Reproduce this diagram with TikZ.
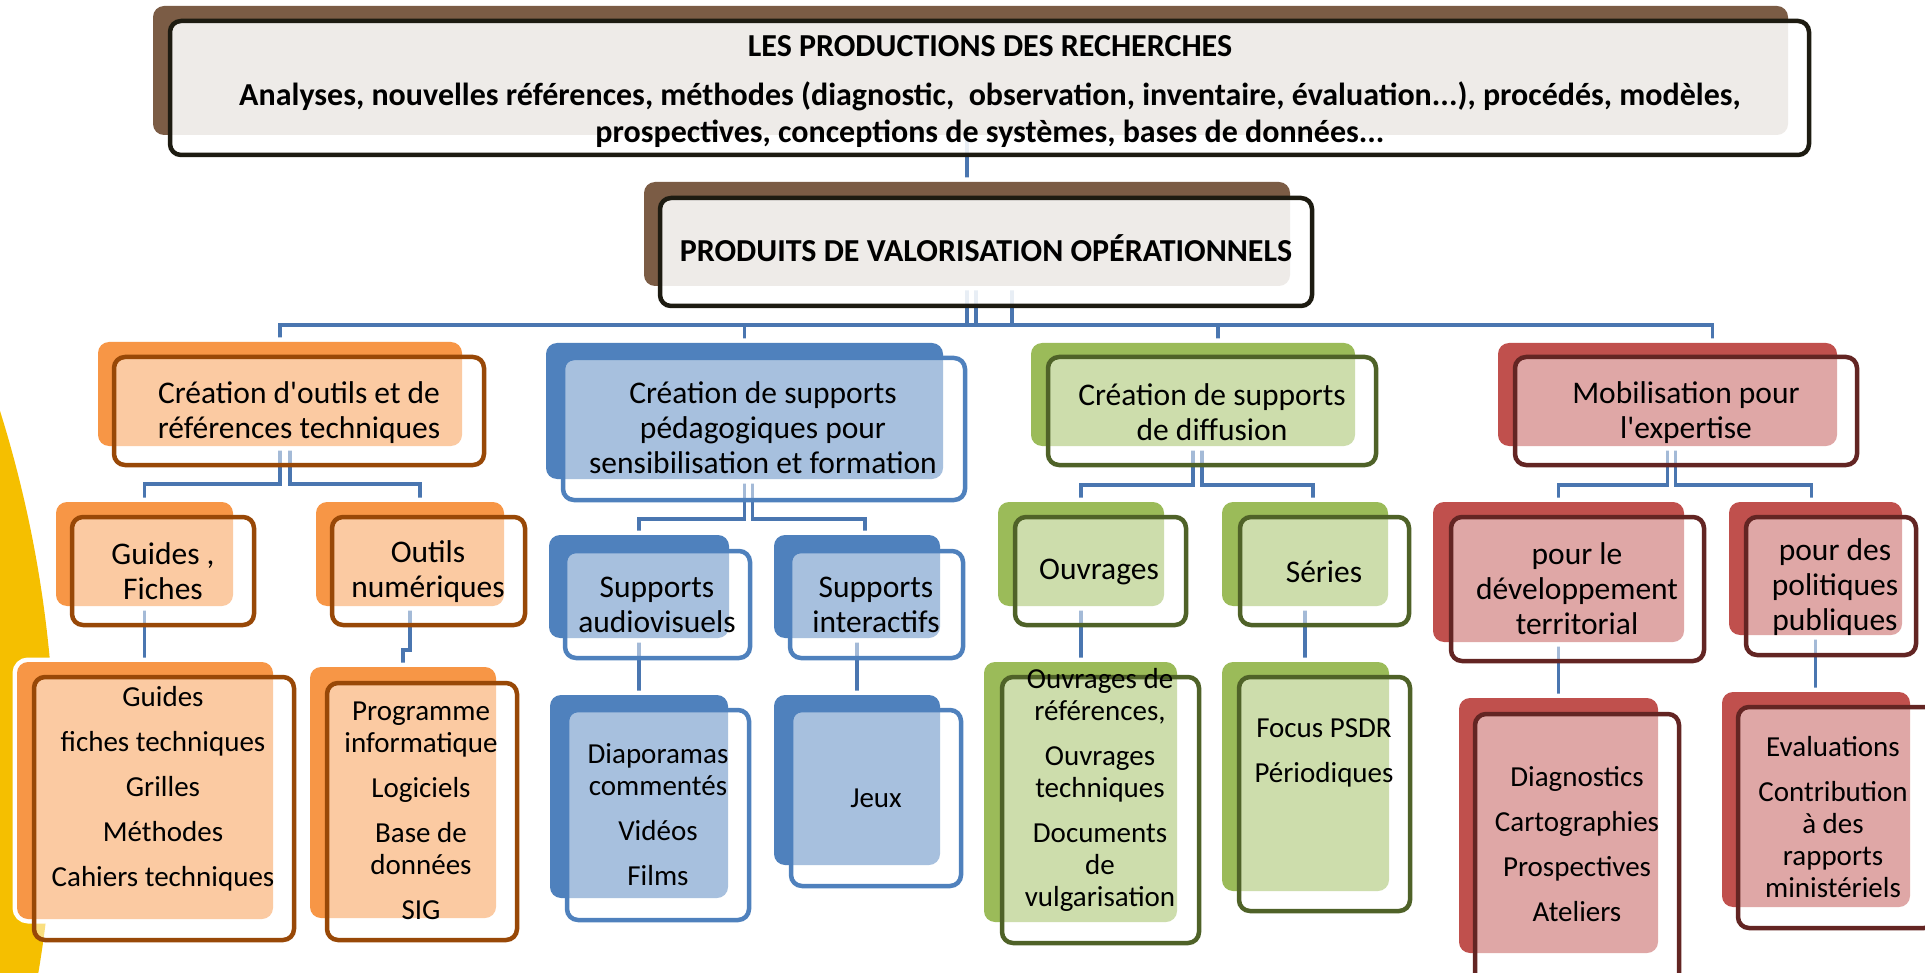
\documentclass[tikz,border=0pt]{standalone}
\usepackage{fontspec}
\setmainfont{Carlito}[Ligatures=TeXOff]
\usetikzlibrary{fit,calc}
\pgfdeclarelayer{bg}
\pgfsetlayers{bg,main}
\definecolor{oB}{HTML}{F79646}
\definecolor{oL}{HTML}{984807}
\definecolor{bB}{HTML}{4F81BD}
\definecolor{bL}{HTML}{4F81BD}
\definecolor{gB}{HTML}{9BBB59}
\definecolor{gL}{HTML}{4F6228}
\definecolor{rB}{HTML}{C0504D}
\definecolor{rL}{HTML}{632523}
\definecolor{kB}{HTML}{7B5C45}
\definecolor{kL}{HTML}{1D1B11}
\definecolor{cB}{HTML}{4A76B0}
\definecolor{yel}{HTML}{F5BF00}
\begin{document}
\begin{tikzpicture}[x=1pt,y=-1pt,
  bk/.style={fill=#1, rounded corners=11pt, inner sep=0pt, outer sep=0pt, preaction={draw=white,line width=9pt}},
  fr/.style={draw=#1, line width=4.5pt, fill=white, fill opacity=0.5, rounded corners=11pt, inner sep=0pt, outer sep=0pt},
  frk/.style={fr=#1, fill opacity=0.88},
  conn/.style={draw=cB, line width=3.5pt},
  t1/.style={align=center, inner sep=0pt, text=black, font=\fontsize{31.5}{35}\selectfont},
  t3/.style={align=center, inner sep=0pt, text=black, font=\fontsize{29}{32}\selectfont},
  tk/.style={align=center, inner sep=0pt, text=black, font=\bfseries\fontsize{32}{37}\selectfont},
]
\useasboundingbox (0,0) rectangle (1925,973);

% ---------- top boxes ----------
\node[bk=kB, fit={(153,6) (1788,135)}] (Tb) {};
\node[frk=kL, fit={(170,21) (1809,155)}] (T) {};
\node[tk] (Tt) at (990,92) {LES PRODUCTIONS DES RECHERCHES\\[12pt]
Analyses, nouvelles références, méthodes (diagnostic, \ observation, inventaire, évaluation...), procédés, modèles,\\
prospectives, conceptions de systèmes, bases de données...};

\node[bk=kB, fit={(644,182) (1290,286)}] (Pb) {};
\node[frk=kL, fit={(660,198) (1312,306)}] (P) {};
\node[tk] (Pt) at (986,248) {PRODUITS DE VALORISATION OPÉRATIONNELS};

% ---------- level 1 ----------
\node[bk=oB, fit={(98,342) (462,446)}] (c1b) {};
\node[fr=oL, fit={(114,357) (484,465)}] (c1) {};
\node[t1] (c1t) at (299,413) {Création d'outils et de\\références techniques};

\node[bk=bB, fit={(546,343) (943,479)}] (c2b) {};
\node[fr=bL, fit={(563,358) (965,500)}] (c2) {};
\node[t1] (c2t) at (763,428) {Création de supports\\pédagogiques pour\\sensibilisation et formation};

\node[bk=gB, fit={(1031,343) (1355,446)}] (c3b) {};
\node[fr=gL, fit={(1048,357) (1376,465)}] (c3) {};
\node[t1] (c3t) at (1212,412) {Création de supports\\de diffusion};

\node[bk=rB, fit={(1498,343) (1837,446)}] (c4b) {};
\node[fr=rL, fit={(1515,357) (1857,465)}] (c4) {};
\node[t1] (c4t) at (1686,413) {Mobilisation pour\\l'expertise};

% ---------- level 2 ----------
\node[bk=oB, fit={(56,502) (233,606)}] (g1b) {};
\node[fr=oL, fit={(72,517) (254,625)}] (g1) {};
\node[t1] (g1t) at (163,571) {Guides ,\\Fiches};

\node[bk=oB, fit={(316,502) (504,606)}] (g2b) {};
\node[fr=oL, fit={(332,517) (525,625)}] (g2) {};
\node[t1] (g2t) at (428,572) {Outils\\numériques};

\node[bk=bB, fit={(549,535) (729,638)}] (b1b) {};
\node[fr=bL, fit={(565,551) (750,658)}] (b1) {};
\node[t1] (b1t) at (657,605) {Supports\\audiovisuels};

\node[bk=bB, fit={(774,535) (940,638)}] (b2b) {};
\node[fr=bL, fit={(790,551) (963,658)}] (b2) {};
\node[t1] (b2t) at (876,605) {Supports\\interactifs};

\node[bk=gB, fit={(998,502) (1164,606)}] (v1b) {};
\node[fr=gL, fit={(1015,517) (1186,625)}] (v1) {};
\node[t1] (v1t) at (1099,572) {Ouvrages};

\node[bk=gB, fit={(1222,502) (1388,606)}] (v2b) {};
\node[fr=gL, fit={(1240,517) (1409,625)}] (v2) {};
\node[t1] (v2t) at (1324,572) {Séries};

\node[bk=rB, fit={(1433,502) (1684,642)}] (r1b) {};
\node[fr=rL, fit={(1451,517) (1704,661)}] (r1) {};
\node[t1] (r1t) at (1577,589) {pour le\\développement\\territorial};

\node[bk=rB, fit={(1729,502) (1902,635)}] (r2b) {};
\node[fr=rL, fit={(1746,517) (1916,655)}] (r2) {};
\node[t1] (r2t) at (1835,587) {pour des\\politiques\\publiques};

% ---------- level 3 ----------
\node[bk=oB, fit={(17,662) (273,919)}] (l1b) {};
\node[fr=oL, fit={(34,677) (294,940)}] (l1) {};
\node[t3] (l1t) at (163,789) {Guides\\[13pt]fiches techniques\\[13pt]Grilles\\[13pt]Méthodes\\[13pt]Cahiers techniques};

\node[bk=oB, fit={(310,667) (496,918)}] (l2b) {};
\node[fr=oL, fit={(327,683) (517,940)}] (l2) {};
\node[t3] (l2t) at (421,811) {Programme\\informatique\\[13pt]Logiciels\\[13pt]Base de\\données\\[13pt]SIG};

\node[bk=bB, fit={(550,695) (728,898)}] (l3b) {};
\node[fr=bL, fit={(567,710) (749,920)}] (l3) {};
\node[t3] (l3t) at (658,815) {Diaporamas\\commentés\\[13pt]Vidéos\\[13pt]Films};

\node[bk=bB, fit={(774,695) (940,865)}] (l4b) {};
\node[fr=bL, fit={(791,710) (961,886)}] (l4) {};
\node[t3] (l4t) at (876,798) {Jeux};

\node[bk=gB, fit={(984,662) (1177,922)}] (l5b) {};
\node[fr=gL, fit={(1002,677) (1199,943)}] (l5) {};
\node[t3] (l5t) at (1100,790) {Ouvrages de\\références,\\[13pt]Ouvrages\\techniques\\[13pt]Documents\\de\\vulgarisation};

\node[bk=gB, fit={(1222,662) (1389,891)}] (l6b) {};
\node[fr=gL, fit={(1239,677) (1410,911)}] (l6) {};
\node[t3] (l6t) at (1324,753) {Focus PSDR\\[13pt]Périodiques};

\node[bk=rB, fit={(1459,698) (1658,953)}] (l7b) {};
\node[fr=rL, fit={(1475,714) (1679,985)}] (l7) {};
\node[t3] (l7t) at (1577,844) {Diagnostics\\[13pt]Cartographies\\[13pt]Prospectives\\[13pt]Ateliers};

\node[bk=rB, fit={(1722,692) (1910,907)}] (l8b) {};
\node[fr=rL, fit={(1738,707) (1935,928)}] (l8) {};
\node[t3] (l8t) at (1833,817) {Evaluations\\[13pt]Contribution\\à des\\rapports\\ministériels};

% ---------- background: decoration and connectors ----------
\begin{pgfonlayer}{bg}
  \fill[yel] (-1151,772) circle[radius=1206pt];
  \draw[conn] (Tb.south -| Pb.north) -- (Pb.north);
  % level 0 -> level 1
  \draw[conn] (Pb.south) -- ++(0,39) -| (c1b.north);
  \draw[conn] ([xshift=9pt]Pb.south) -- ++(0,39) -| (c2b.north);
  \draw[conn] ([xshift=45pt]Pb.south) -- ++(0,39) -| ([xshift=25pt]c3b.north);
  \draw[conn] (Pb.south) -- ++(0,39) -| ([xshift=45pt]c4b.north);
  % level 1 -> level 2
  \draw[conn] (c1b.south) -- ++(0,38) -| (g1b.north);
  \draw[conn] ([xshift=10pt]c1b.south) -- ++(0,38) -| ([xshift=10pt]g2b.north);
  \draw[conn] (c2b.south) -- ++(0,40) -| (b1b.north);
  \draw[conn] ([xshift=8pt]c2b.south) -- ++(0,40) -| ([xshift=8pt]b2b.north);
  \draw[conn] (c3b.south) -- ++(0,39) -| (v1b.north);
  \draw[conn] ([xshift=9pt]c3b.south) -- ++(0,39) -| ([xshift=8pt]v2b.north);
  \draw[conn] (c4b.south) -- ++(0,39) -| (r1b.north);
  \draw[conn] ([xshift=8pt]c4b.south) -- ++(0,39) -| ([xshift=-4pt]r2b.north);
  % level 2 -> level 3
  \draw[conn] (g1b.south) -- (g1b.south |- l1b.north);
  \draw[conn] (g2b.south) -- ++(0,44) -| (l2b.north);
  \draw[conn] (b1b.south) -- (b1b.south |- l3b.north);
  \draw[conn] (b2b.south) -- (b2b.south |- l4b.north);
  \draw[conn] (v1b.south) -- (v1b.south |- l5b.north);
  \draw[conn] (v2b.south) -- (v2b.south |- l6b.north);
  \draw[conn] (r1b.south) -- (r1b.south |- l7b.north);
  \draw[conn] (r2b.south) -- (r2b.south |- l8b.north);
\end{pgfonlayer}
\end{tikzpicture}
\end{document}
